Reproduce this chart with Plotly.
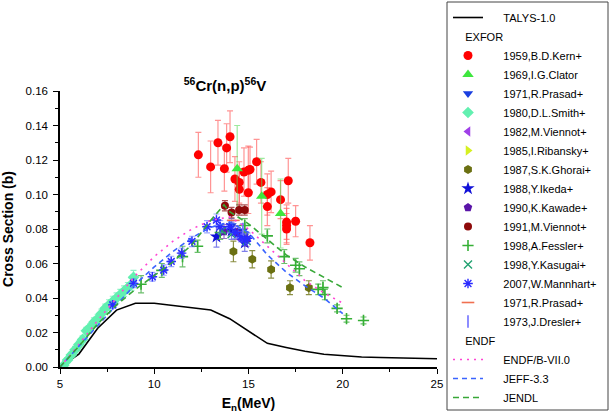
import plotly.graph_objects as go

# ---------------- data ----------------
talys_x = [5, 6, 7, 8, 9, 10, 11, 12, 13, 14, 15, 16, 17, 18, 19, 20, 21, 22, 23, 24, 25]
talys_y = [0.0, 0.0075, 0.0225, 0.033, 0.037, 0.037, 0.0357, 0.0343, 0.033, 0.028, 0.021,
           0.0137, 0.0113, 0.0091, 0.0074, 0.0064, 0.0058, 0.0055, 0.0053, 0.0051, 0.0048]

endfb_x = [5, 6, 7, 8, 9, 10, 11, 12, 13, 14, 15, 16, 17, 18, 19, 20]
endfb_y = [0.0, 0.013, 0.027, 0.040, 0.053, 0.064, 0.073, 0.080, 0.085, 0.087, 0.080,
           0.070, 0.060, 0.050, 0.043, 0.037]

jeff_x = [5, 6, 7, 8, 9, 10, 11, 12, 13, 14, 15, 16, 17, 18, 19, 20]
jeff_y = [0.0, 0.012, 0.024, 0.036, 0.048, 0.058, 0.067, 0.075, 0.081, 0.084, 0.078,
          0.065, 0.055, 0.047, 0.040, 0.031]

jendl_x = [5, 6, 7, 8, 9, 10, 11, 12, 13, 13.7, 14, 15, 16, 17, 18, 19, 20]
jendl_y = [0.0, 0.012, 0.025, 0.036, 0.045, 0.053, 0.061, 0.071, 0.085, 0.094, 0.090,
           0.083, 0.074, 0.065, 0.058, 0.052, 0.046]

kern_x = [12.34, 12.99, 13.38, 13.72, 13.84, 14.02, 14.28, 14.51, 14.51, 14.76, 14.99, 15.08,
          14.99, 15.43, 15.66, 16.0, 16.0, 16.2, 16.7, 17.11, 17.02, 17.02, 17.02, 17.5, 18.26]
kern_y = [0.123, 0.116, 0.130, 0.115, 0.127, 0.1335, 0.109, 0.107, 0.103, 0.113, 0.114, 0.1145,
          0.101, 0.119, 0.107, 0.100, 0.093, 0.1015, 0.097, 0.108, 0.084, 0.082, 0.080, 0.0845, 0.072]
kern_e = [0.013, 0.015, 0.013, 0.013, 0.014, 0.015, 0.013, 0.012, 0.012, 0.014, 0.014, 0.013,
          0.012, 0.013, 0.012, 0.012, 0.011, 0.012, 0.011, 0.013, 0.010, 0.010, 0.009, 0.009, 0.010]

clator_x = [14.4, 15.7, 16.7]
clator_y = [0.115, 0.099, 0.089]
clator_e = [0.025, 0.022, 0.020]

prasad_x = [14.1, 14.7]
prasad_y = [0.082, 0.079]
prasad_e = [0.004, 0.004]

smith_x = [5.2, 5.4, 5.6, 5.8, 6.0, 6.2, 6.4, 6.6, 6.8, 7.0, 7.2, 7.4, 7.6, 7.8, 8.0, 8.2,
           8.4, 8.6, 8.8, 8.9]
smith_y = [0.001, 0.004, 0.007, 0.010, 0.013, 0.016, 0.021, 0.023, 0.026, 0.028, 0.031,
           0.034, 0.036, 0.038, 0.040, 0.042, 0.044, 0.046, 0.048, 0.052]
smith_e = [0.001, 0.0015, 0.0015, 0.002, 0.002, 0.002, 0.002, 0.002, 0.0025, 0.0025, 0.0025,
           0.0025, 0.003, 0.003, 0.003, 0.003, 0.003, 0.003, 0.0035, 0.004]

viennot82_x = [14.6]
viennot82_y = [0.074]

ribansky_x = [14.8]
ribansky_y = [0.077]

ghorai_x = [14.2, 15.2, 16.2, 17.2, 18.2]
ghorai_y = [0.067, 0.0625, 0.0565, 0.046, 0.046]
ghorai_e = [0.006, 0.005, 0.005, 0.004, 0.004]

ikeda_x = [13.3, 14.1, 14.8]
ikeda_y = [0.0755, 0.079, 0.072]
ikeda_e = [0.006, 0.005, 0.005]

kawade_x = [13.7, 14.4, 14.9]
kawade_y = [0.0785, 0.078, 0.074]
kawade_e = [0.004, 0.004, 0.004]

viennot91_x = [13.75, 14.1, 14.5, 14.8]
viennot91_y = [0.0935, 0.0895, 0.091, 0.091]
viennot91_e = [0.003, 0.003, 0.003, 0.003]

fessler_x = [9.3, 10.4, 11.5, 12.3, 13.5, 14.8, 16.0, 16.9, 17.5, 17.7, 18.7, 18.95, 19.05,
             19.7, 20.2, 21.1]
fessler_y = [0.048, 0.056, 0.064, 0.070, 0.078, 0.082, 0.076, 0.064, 0.059, 0.057, 0.045,
             0.046, 0.042, 0.034, 0.028, 0.027]
fessler_e = [0.005, 0.004, 0.006, 0.0035, 0.004, 0.004, 0.004, 0.004, 0.004, 0.004, 0.003,
             0.004, 0.003, 0.002, 0.002, 0.002]

kasugai_x = [13.6, 14.1, 14.9]
kasugai_y = [0.079, 0.077, 0.073]

mannhart_x = [7.8, 8.9, 9.9, 10.5, 10.9, 11.45, 12.0, 12.8, 13.3, 13.5, 14.0, 14.3, 14.6,
              14.8, 14.95]
mannhart_y = [0.036, 0.0485, 0.0523, 0.0562, 0.0612, 0.066, 0.0728, 0.0813, 0.0852, 0.0813,
              0.0813, 0.078, 0.0755, 0.0736, 0.0746]
mannhart_e = [0.002, 0.0025, 0.0025, 0.003, 0.003, 0.003, 0.003, 0.0035, 0.0035, 0.0035,
              0.0035, 0.0035, 0.003, 0.003, 0.003]

prasad2_x = [14.2]
prasad2_y = [0.085]

dresler_x = [14.7]
dresler_y = [0.080]

# ---------------- figure ----------------
FONT = "Arial, Liberation Sans, sans-serif"
W, H = 610, 416
L, R, T, B = 60, 173, 91, 49
PW, PH = W - L - R, H - T - B
ROW = 19            # plotly legend row height (px)
ROWS_PER_LEGEND = 7
LEG_TOP = 3         # px from top of the page
LEG_X = 448
PAD = "\u00a0" * 5  # indent of entry text
HPAD = "\u00a0" * 4  # indent of group headers

fig = go.Figure()
row = [0]


def legend_for_row():
    k = row[0] // ROWS_PER_LEGEND
    row[0] += 1
    return "legend" if k == 0 else "legend%d" % (k + 1)


def add_header():
    row[0] += 1


fig.add_trace(go.Scatter(x=talys_x, y=talys_y, mode="lines", name=PAD + "TALYS-1.0",
                         line=dict(color="black", width=1.6), legendgroup="talys",
                         legend=legend_for_row()))

group_idx = [0]


def exfor(x, y, name, symbol, color, size=9, err=None, ecolor=None, errx=None, lw=0, lcolor=None,
          title=None):
    marker = dict(symbol=symbol, color=color, size=size,
                  line=dict(width=lw, color=lcolor if lcolor else color))
    kw = {}
    if err is not None:
        kw["error_y"] = dict(type="data", array=err, color=ecolor or color, thickness=1.2, width=3)
    if errx is not None:
        kw["error_x"] = dict(type="constant", value=errx, color=ecolor or color, thickness=1.2, width=3)
    group_idx[0] += 1
    if title:
        add_header()
        kw["legendgrouptitle"] = dict(text=HPAD + title)
    fig.add_trace(go.Scatter(x=x, y=y, mode="markers", name=PAD + name, marker=marker,
                             legendgroup="g%d" % group_idx[0], legend=legend_for_row(), **kw))


exfor(kern_x, kern_y, "1959,B.D.Kern+", "circle", "#ff0000", 9, kern_e, "rgba(255,90,90,0.65)",
      title="EXFOR")
exfor(clator_x, clator_y, "1969,I.G.Clator", "triangle-up", "#3ee63e", 10, clator_e, "rgba(90,220,90,0.6)")
exfor(prasad_x, prasad_y, "1971,R.Prasad+", "triangle-down", "#1a3fe0", 9, prasad_e, "rgba(60,90,230,0.6)")
exfor(smith_x, smith_y, "1980,D.L.Smith+", "diamond", "#62f0b0", 9, smith_e, "rgba(98,240,176,0.7)", errx=0.12)
exfor(viennot82_x, viennot82_y, "1982,M.Viennot+", "triangle-left", "#a040e8", 9)
exfor(ribansky_x, ribansky_y, "1985,I.Ribansky+", "triangle-right", "#d6f020", 9)
exfor(ghorai_x, ghorai_y, "1987,S.K.Ghorai+", "hexagon", "#6b7012", 9, ghorai_e, "rgba(110,115,20,0.8)")
exfor(ikeda_x, ikeda_y, "1988,Y.Ikeda+", "star", "#1010d8", 10, ikeda_e, "rgba(40,40,220,0.6)")
exfor(kawade_x, kawade_y, "1990,K.Kawade+", "pentagon", "#5a14a8", 9, kawade_e, "rgba(90,20,168,0.6)")
exfor(viennot91_x, viennot91_y, "1991,M.Viennot+", "circle", "#8e0a0a", 8, viennot91_e, "rgba(140,10,10,0.7)")
exfor(fessler_x, fessler_y, "1998,A.Fessler+", "cross-thin", "#36b036", 8, fessler_e, "rgba(60,170,60,0.75)",
      lw=1.6, lcolor="#36b036")
exfor(kasugai_x, kasugai_y, "1998,Y.Kasugai+", "x-thin", "#20a070", 8, lw=1.4, lcolor="#20a070")
exfor(mannhart_x, mannhart_y, "2007,W.Mannhart+", "asterisk", "#2a2aff", 8, mannhart_e, "rgba(90,110,255,0.6)",
      errx=0.15, lw=1.4, lcolor="#2a2aff")
exfor(prasad2_x, prasad2_y, "1971,R.Prasad+", "line-ew", "#f07050", 9, lw=1.6, lcolor="#f07050")
exfor(dresler_x, dresler_y, "1973,J.Dresler+", "line-ns", "#7070ff", 9, lw=1.6, lcolor="#7070ff")

add_header()
for x, y, name, color, dash in [(endfb_x, endfb_y, "ENDF/B-VII.0", "#ff44d4", "2px,5px"),
                                (jeff_x, jeff_y, "JEFF-3.3", "#3a64ff", "5px,4px"),
                                (jendl_x, jendl_y, "JENDL", "#38a838", "6px,4px")]:
    fig.add_trace(go.Scatter(x=x, y=y, mode="lines", name=PAD + name,
                             line=dict(color=color, width=1.6, dash=dash),
                             legendgroup="endf", legend=legend_for_row(),
                             legendgrouptitle=dict(text=HPAD + "ENDF")))

n_rows = row[0]
n_legends = (n_rows + ROWS_PER_LEGEND - 1) // ROWS_PER_LEGEND

axis_common = dict(showline=True, linecolor="black", linewidth=1.5, mirror=False,
                   ticks="outside", ticklen=5, tickwidth=1.3, tickcolor="black",
                   showgrid=False, zeroline=False, automargin=False,
                   tickfont=dict(family=FONT, size=11.5, color="black"))

fig.update_xaxes(range=[5, 25], dtick=5, tick0=5,
                 minor=dict(dtick=2.5, ticks="outside", ticklen=3, tickcolor="black", tickwidth=1.2),
                 title=dict(text="<b>E<sub>n</sub>(MeV)</b>", font=dict(family=FONT, size=14, color="black"),
                            standoff=10),
                 **axis_common)
fig.update_yaxes(range=[0, 0.16], dtick=0.02, tick0=0, tickformat=".2f",
                 minor=dict(dtick=0.01, ticks="outside", ticklen=3, tickcolor="black", tickwidth=1.2),
                 title=dict(text="<b>Cross Section (b)</b>", font=dict(family=FONT, size=14, color="black"),
                            standoff=10),
                 ticklabelstandoff=3,
                 **axis_common)

legend_style = dict(xref="container", yref="container", xanchor="left", yanchor="top",
                    bgcolor="rgba(0,0,0,0)", borderwidth=0,
                    font=dict(family=FONT, size=11, color="black"),
                    traceorder="grouped", tracegroupgap=0,
                    grouptitlefont=dict(family=FONT, size=11, color="black"),
                    itemwidth=30)
legends = {}
for k in range(n_legends):
    key = "legend" if k == 0 else "legend%d" % (k + 1)
    top_px = LEG_TOP + k * ROWS_PER_LEGEND * ROW
    legends[key] = dict(legend_style, x=LEG_X / W, y=1 - top_px / H)

# border around the stacked legends
box_top_px = 2
box_bot_px = LEG_TOP + n_rows * ROW + 8
box_l_px, box_r_px = 447, 608
fig.add_shape(type="rect", xref="paper", yref="paper",
              x0=(box_l_px - L) / PW, x1=(box_r_px - L) / PW,
              y0=(H - B - box_bot_px) / PH, y1=(H - B - box_top_px) / PH,
              line=dict(color="#444", width=1), fillcolor="rgba(0,0,0,0)", layer="below")

fig.update_layout(
    width=W, height=H,
    margin=dict(l=L, r=R, t=T, b=B),
    paper_bgcolor="white", plot_bgcolor="white",
    font=dict(family=FONT, color="black"),
    title=dict(text="<b><sup>56</sup>Cr(n,p)<sup>56</sup>V</b>", x=225 / W, xanchor="center",
               y=1 - 86 / H, yanchor="middle", font=dict(family=FONT, size=15, color="black")),
    showlegend=True,
    **legends,
)

fig.write_html("out.html", config={"displayModeBar": False},
               post_script="document.body.style.margin='0';")
